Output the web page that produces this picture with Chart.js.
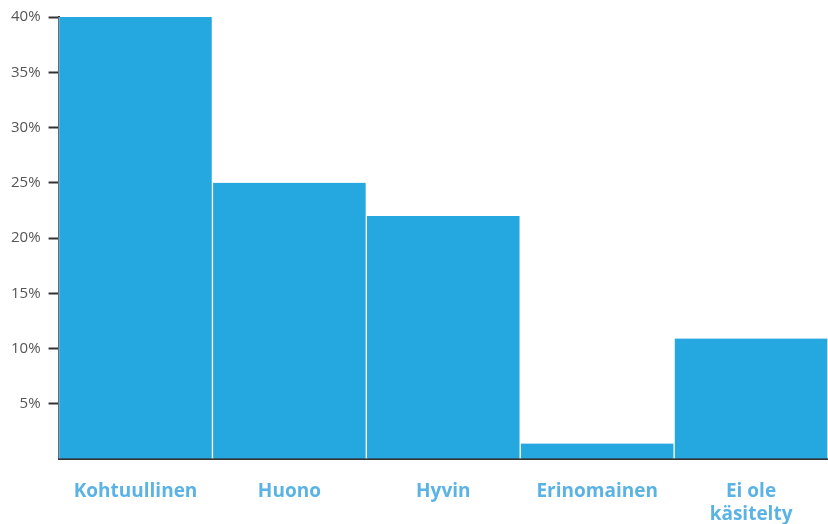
<!DOCTYPE html>
<html>
<head>
<meta charset="utf-8">
<script src="https://cdn.jsdelivr.net/npm/chart.js@4"></script>
<style>
  html, body { margin: 0; padding: 0; background: #fff; }
  #wrap { width: 828px; height: 524px; position: relative; }
</style>
</head>
<body>
<div id="wrap"><canvas id="myChart"></canvas></div>
<script>
// answer categories and their share in percent
var categories = ['Kohtuullinen', 'Huono', 'Hyvin', 'Erinomainen', ['Ei ole', 'käsitelty']];
var shares = [40, 25, 22, 1.4, 10.9];
var yTicks = [0, 5, 10, 15, 20, 25, 30, 35, 40];

var ctx = document.getElementById('myChart').getContext('2d');

var myChart = new Chart(ctx, {
  type: 'bar',
  data: {
    labels: categories,
    datasets: [{
      data: shares,
      backgroundColor: '#25a8e0',
      borderColor: '#ffffff',
      borderWidth: { left: 1, right: 1, top: 0, bottom: 0 },
      borderSkipped: false,
      barPercentage: 1,
      categoryPercentage: 1
    }]
  },
  options: {
    responsive: true,
    maintainAspectRatio: false,
    animation: false,
    layout: { padding: { left: 3, top: 5, right: 0, bottom: 0 } },
    plugins: {
      legend: { display: false },
      tooltip: { enabled: false }
    },
    scales: {
      x: {
        afterFit: function(axis) { axis.height = 65; },
        grid: { display: false, drawTicks: false },
        border: { display: true, color: '#333', width: 2 },
        ticks: {
          padding: 21,
          maxRotation: 0,
          color: '#5ab3e4',
          font: { family: 'Open Sans', size: 19, weight: 'bold', lineHeight: 1.2 }
        }
      },
      y: {
        min: 0,
        max: 40,
        afterBuildTicks: function(axis) {
          axis.ticks = yTicks.map(function(v){ return { value: v }; });
        },
        grid: {
          drawOnChartArea: false,
          drawTicks: true,
          tickLength: 10,
          tickWidth: 2,
          color: function(c) { return c.tick && c.tick.value === 0 ? 'rgba(0,0,0,0)' : '#333'; }
        },
        border: { display: true, color: '#333', width: 2 },
        ticks: {
          padding: 8,
          color: '#555',
          font: { family: 'Open Sans', size: 15 },
          callback: function(v) { return v === 0 ? '' : v + '%'; }
        }
      }
    }
  }
});
</script>
</body>
</html>
